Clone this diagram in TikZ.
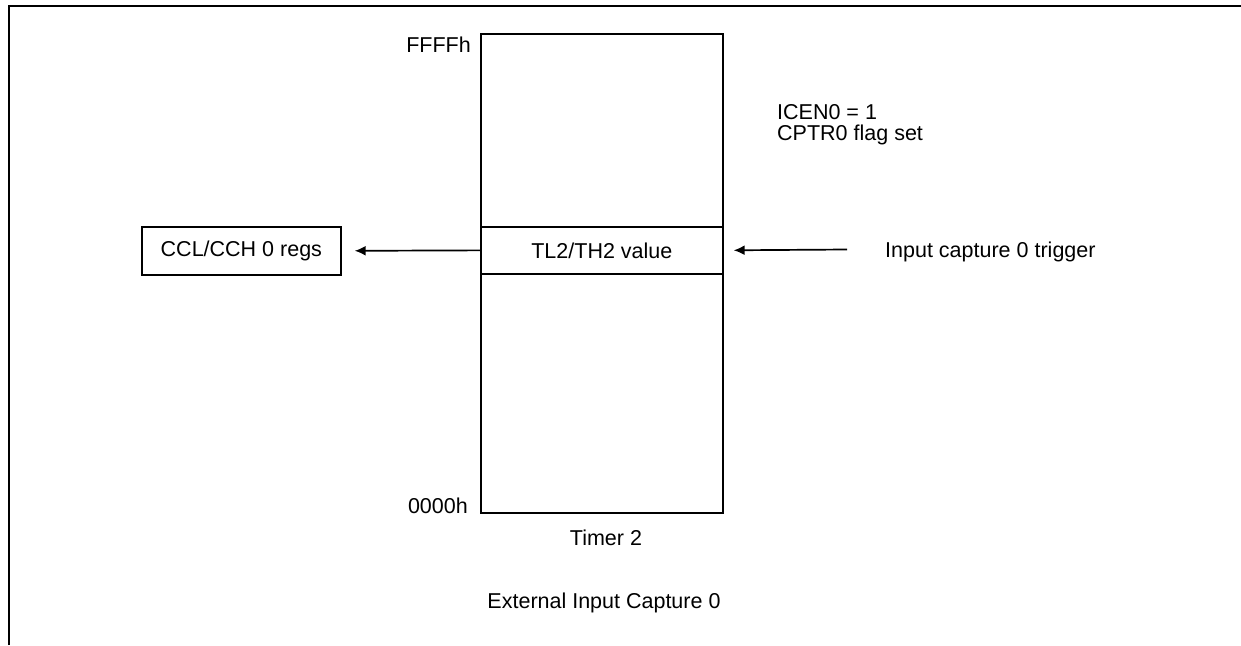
\documentclass[tikz,border=0pt]{standalone}
\usepackage{fontspec}
\setmainfont{Liberation Sans}
\usetikzlibrary{arrows.meta}
\begin{document}
\begin{tikzpicture}[x=1pt,y=-1pt,
  lbl/.style={inner sep=0pt,font=\fontsize{21.5}{21}\selectfont},
  boxline/.style={draw,line width=1.7pt},
  arr/.style={line width=1.7pt,-{Latex[length=11pt,width=10pt]}},
  frameline/.style={line width=2.6pt}]
\useasboundingbox (0,0) rectangle (1241,645);
% outer frame
\coordinate (fa) at (9,645);
\coordinate (fb) at (9,6);
\coordinate (fc) at (1241,6);
\draw[frameline] (fa) -- (fb) -- (fc);
% timer box
\node[boxline,minimum width=242pt,minimum height=479pt,inner sep=0pt,anchor=north west] (timer) at (480,33) {};
\node[boxline,minimum width=242pt,minimum height=47pt,inner sep=0pt,anchor=north west] (band) at (480,226) {};
\node[lbl] at (band.center) {TL2/TH2 value};
% CCL box
\node[boxline,minimum width=199pt,minimum height=48pt,inner sep=0pt,anchor=north west] (ccl) at (141,226) {};
\node[lbl] at (ccl.center) {CCL/CCH 0 regs};
% arrows
\draw[arr,shorten >=13pt] (band.west) -- (ccl.east);
\coordinate (trig) at (847,249.5);
\draw[arr,shorten >=10pt] (trig) -- (band.east);
% labels
\node[lbl,anchor=base west] (itext) at (885,257) {Input capture 0 trigger};
\node[lbl,anchor=base east] (ffff) at (471,52) {FFFFh};
\node[lbl,anchor=base east] (zero) at (468,513) {0000h};
\node[lbl,anchor=base] (t2) at (606,545) {Timer 2};
\node[lbl,anchor=base] (ext) at (604,608) {External Input Capture 0};
\node[lbl,anchor=base west] (icen) at (777,119) {ICEN0 = 1};
\node[lbl,anchor=base west] (cptr) at (777,140) {CPTR0 flag set};
\end{tikzpicture}
\end{document}
